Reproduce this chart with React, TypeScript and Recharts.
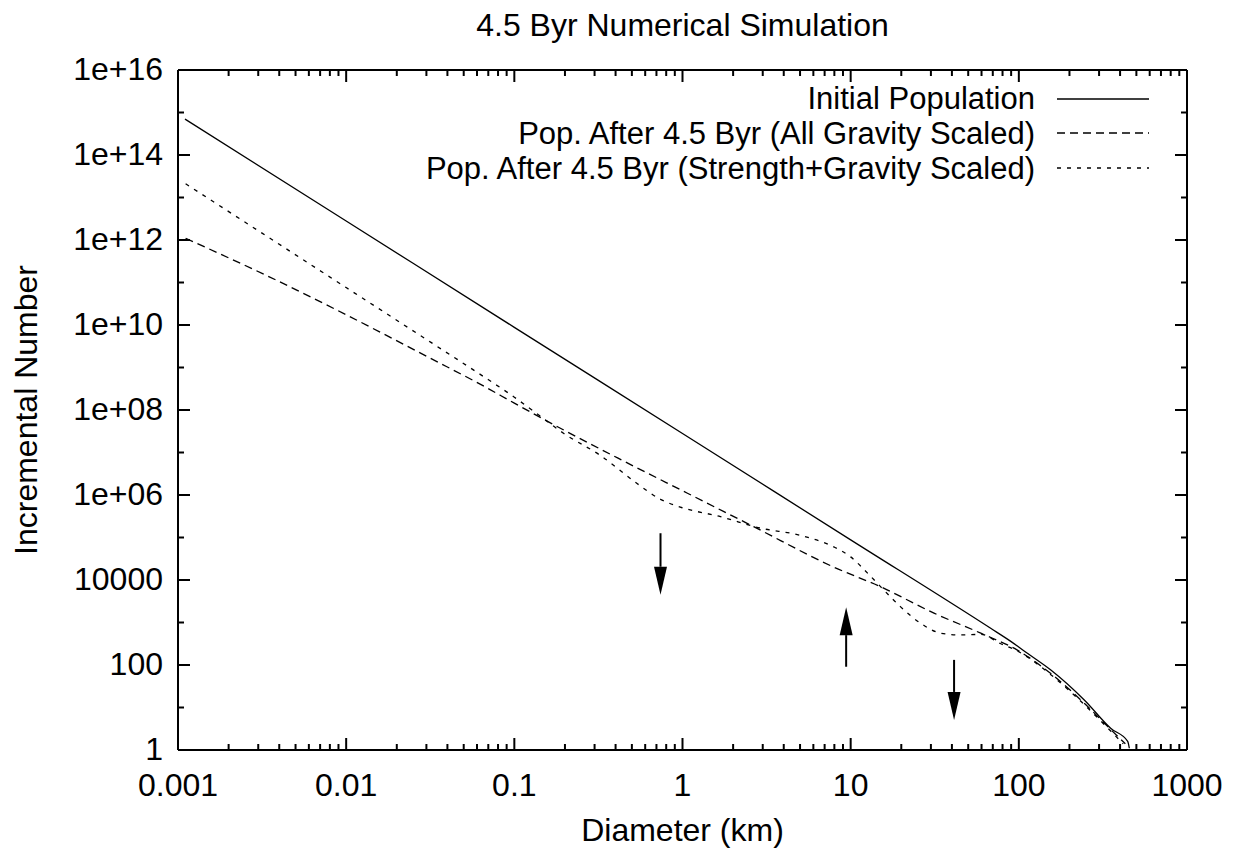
import * as React from "react";
import { LineChart, Line, XAxis, YAxis, ReferenceLine, Legend } from "recharts";

const FONT = '"Liberation Sans", Arial, Helvetica, sans-serif';
const FS = 32;
const LEGEND_FS = 31;
const LEGEND_ROW = 34.7;

// page + plot box (pixels)
const W = 1237;
const H = 854;
const LEFT = 178;
const RIGHT = 1187;
const TOP = 70;
const BOTTOM = 750;
const AXIS_W = 10; // size given to every axis box

/* ---------- data (diameter km, incremental number) ---------- */
const initialD = [0.0011, 0.01, 0.1, 1, 10, 68, 90, 113, 155, 245, 353, 444, 454];
const initialN = [7e14, 2.8e12, 8.8e9, 2.8e7, 8.8e4, 730, 355, 186, 76, 15, 3.2, 1.6, 1.1];

const gravityD = [0.00111, 0.004, 0.0158, 0.0316, 0.063, 0.1, 0.17, 0.43, 1.07, 2.65, 7.96, 15.1, 31.3, 59.4, 98, 155, 245, 353, 430];
const gravityN = [1.1e12, 1.05e11, 6.9e9, 1.66e9, 4e8, 1.45e8, 4.6e7, 6.8e6, 1.1e6, 1.8e5, 2.0e4, 6.9e3, 1.66e3, 560, 224, 63, 12.6, 3, 1.4];

const strengthD = [0.00111, 0.00316, 0.01, 0.0316, 0.063, 0.1, 0.141, 0.197, 0.325, 0.537, 0.74, 0.97, 1.68, 2.91, 5.04, 7.94, 10, 12.6, 15.1, 19.9, 26.1, 34.4, 45.2, 59.4, 78.2, 98, 155, 245, 353, 417];
const strengthN = [2.1e13, 1.45e12, 7.6e10, 4e9, 6.8e8, 2e8, 7.4e7, 2.8e7, 8.5e6, 1.86e6, 7.9e5, 5.2e5, 3.1e5, 1.66e5, 1.12e5, 6e4, 3.5e4, 1.45e4, 6.9e3, 2.3e3, 955, 560, 510, 525, 316, 214, 59, 11.7, 2.75, 1.4];

// arrows: diameter, start count, tip count
const arrowD = [0.74, 9.4, 41.2];
const arrowFrom = [1.26e5, 91, 132];
const arrowTo = [4.5e3, 2.3e3, 5.1];

/* ---------- ticks ---------- */
const xMajor = [0.001, 0.01, 0.1, 1, 10, 100, 1000];
const xMinorMult = [2, 3, 4, 5, 6, 7, 8, 9];
const xTicks = [
    ...xMajor,
    ...xMajor.slice(0, -1).flatMap((d) => xMinorMult.map((m) => +(d * m).toPrecision(3))),
];
const yTicks = [1, 1e1, 1e2, 1e3, 1e4, 1e5, 1e6, 1e7, 1e8, 1e9, 1e10, 1e11, 1e12, 1e13, 1e14, 1e15, 1e16];

const toRows = (ds: number[], ns: number[]) => ds.map((d, i) => ({ d, n: ns[i] }));

const series = [
    { name: "Initial Population", data: toRows(initialD, initialN), dash: undefined as string | undefined },
    { name: "Pop. After 4.5 Byr (All Gravity Scaled)", data: toRows(gravityD, gravityN), dash: "8 5" },
    { name: "Pop. After 4.5 Byr (Strength+Gravity Scaled)", data: toRows(strengthD, strengthN), dash: "4 6" },
];

const yLabel = (v: number) => {
    const e = Math.round(Math.log10(v));
    if (e % 2 !== 0) return null;
    return e <= 4 ? String(Math.round(v)) : `1e+${String(e).padStart(2, "0")}`;
};

/* ---------- tick renderers ---------- */
function BottomTick({ x, y, payload }: any) {
    const major = xMajor.includes(payload.value);
    return (
        <g>
            <line x1={x} y1={y} x2={x} y2={y - (major ? 12 : 6)} stroke="#000" strokeWidth={2} />
            {major && (
                <text x={x} y={y + 46} textAnchor="middle" fontSize={FS} fontFamily={FONT} fill="#000">
                    {String(payload.value)}
                </text>
            )}
        </g>
    );
}

function TopTick({ x, y, payload }: any) {
    const major = xMajor.includes(payload.value);
    return <line x1={x} y1={y} x2={x} y2={y + (major ? 12 : 6)} stroke="#000" strokeWidth={2} />;
}

function LeftTick({ x, y, payload }: any) {
    const label = yLabel(payload.value);
    return (
        <g>
            <line x1={x} y1={y} x2={x + (label ? 12 : 6)} y2={y} stroke="#000" strokeWidth={2} />
            {label && (
                <text x={x - 15} y={y + 10} textAnchor="end" fontSize={FS} fontFamily={FONT} fill="#000">
                    {label}
                </text>
            )}
        </g>
    );
}

function RightTick({ x, y, payload }: any) {
    const label = yLabel(payload.value);
    return <line x1={x} y1={y} x2={x - (label ? 12 : 6)} y2={y} stroke="#000" strokeWidth={2} />;
}

function Arrow({ x1, y1, x2, y2 }: any) {
    const dir = y2 > y1 ? 1 : -1;
    const base = y2 - dir * 28;
    return (
        <g>
            <line x1={x1} y1={y1} x2={x2} y2={base} stroke="#000" strokeWidth={2} />
            <polygon points={`${x2 - 6.5},${base} ${x2 + 6.5},${base} ${x2},${y2}`} fill="#000" />
        </g>
    );
}

function LegendBox() {
    return (
        <div style={{ fontFamily: FONT, fontSize: LEGEND_FS, color: "#000", lineHeight: 1 }}>
            {series.map((s) => (
                <div
                    key={s.name}
                    style={{ display: "flex", justifyContent: "flex-end", alignItems: "center", height: LEGEND_ROW }}
                >
                    <span style={{ whiteSpace: "nowrap" }}>{s.name}</span>
                    <svg width={92} height={10} style={{ marginLeft: 22, display: "block" }}>
                        <line x1={0} y1={5} x2={92} y2={5} stroke="#000" strokeWidth={1.3} strokeDasharray={s.dash} />
                    </svg>
                </div>
            ))}
        </div>
    );
}

export default function App() {
    const axisLine = { stroke: "#000", strokeWidth: 2 };
    const midY = (TOP + BOTTOM) / 2;
    return (
        <div style={{ position: "absolute", left: 0, top: 0, width: W, height: H, background: "#fff" }}>
            <LineChart
                width={W}
                height={H}
                margin={{
                    top: TOP - AXIS_W,
                    right: W - RIGHT - AXIS_W,
                    bottom: H - BOTTOM - AXIS_W,
                    left: LEFT - AXIS_W,
                }}
            >
                <XAxis
                    dataKey="d"
                    type="number"
                    scale="log"
                    domain={[0.001, 1000]}
                    allowDataOverflow
                    ticks={xTicks}
                    interval={0}
                    height={AXIS_W}
                    tickSize={0}
                    tickMargin={0}
                    tickLine={false}
                    axisLine={axisLine}
                    tick={<BottomTick />}
                />
                <XAxis
                    xAxisId="top"
                    orientation="top"
                    dataKey="d"
                    type="number"
                    scale="log"
                    domain={[0.001, 1000]}
                    allowDataOverflow
                    ticks={xTicks}
                    interval={0}
                    height={AXIS_W}
                    tickSize={0}
                    tickMargin={0}
                    tickLine={false}
                    axisLine={axisLine}
                    tick={<TopTick />}
                />
                <YAxis
                    dataKey="n"
                    type="number"
                    scale="log"
                    domain={[1, 1e16]}
                    allowDataOverflow
                    ticks={yTicks}
                    interval={0}
                    width={AXIS_W}
                    tickSize={0}
                    tickMargin={0}
                    tickLine={false}
                    axisLine={axisLine}
                    tick={<LeftTick />}
                />
                <YAxis
                    yAxisId="right"
                    orientation="right"
                    dataKey="n"
                    type="number"
                    scale="log"
                    domain={[1, 1e16]}
                    allowDataOverflow
                    ticks={yTicks}
                    interval={0}
                    width={AXIS_W}
                    tickSize={0}
                    tickMargin={0}
                    tickLine={false}
                    axisLine={axisLine}
                    tick={<RightTick />}
                />
                {series.map((s) => (
                    <Line
                        key={s.name}
                        name={s.name}
                        data={s.data}
                        dataKey="n"
                        type="monotone"
                        stroke="#000"
                        strokeWidth={1.3}
                        strokeDasharray={s.dash}
                        dot={false}
                        activeDot={false}
                        isAnimationActive={false}
                    />
                ))}
                {arrowD.map((d, i) => (
                    <ReferenceLine
                        key={i}
                        segment={[
                            { x: d, y: arrowFrom[i] },
                            { x: d, y: arrowTo[i] },
                        ]}
                        ifOverflow="visible"
                        shape={Arrow}
                    />
                ))}
                <Legend
                    layout="vertical"
                    align="center"
                    verticalAlign="middle"
                    wrapperStyle={{ top: 81.3, left: 0, width: 1149, height: "auto" }}
                    content={<LegendBox />}
                />
                <text x={(LEFT + RIGHT) / 2} y={36} textAnchor="middle" fontSize={FS} fontFamily={FONT} fill="#000">
                    4.5 Byr Numerical Simulation
                </text>
                <text x={(LEFT + RIGHT) / 2} y={841} textAnchor="middle" fontSize={FS} fontFamily={FONT} fill="#000">
                    Diameter (km)
                </text>
                <text
                    x={37}
                    y={midY}
                    textAnchor="middle"
                    fontSize={FS}
                    fontFamily={FONT}
                    fill="#000"
                    transform={`rotate(-90, 37, ${midY})`}
                >
                    Incremental Number
                </text>
            </LineChart>
        </div>
    );
}
